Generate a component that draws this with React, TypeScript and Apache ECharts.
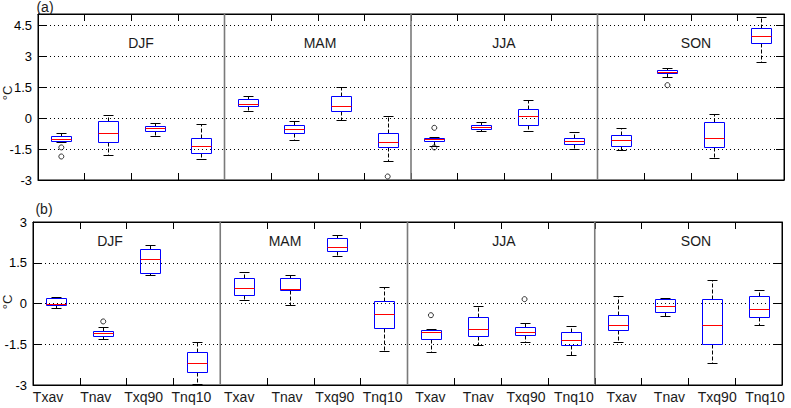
import React, { useEffect, useRef } from 'react';
import * as echarts from 'echarts';

// Indices and seasons shown on the horizontal axis
const indices = ['Txav', 'Tnav', 'Txq90', 'Tnq10'];
const seasons = ['DJF', 'MAM', 'JJA', 'SON'];
const categories = seasons.flatMap((s) => indices.map((ix) => `${s} ${ix}`));
const xTickLabels = seasons.flatMap(() => indices);

// Box statistics per season/index: [lower whisker, Q1, median, Q3, upper whisker]
const statsA = [
  [-1.15, -1.11, -0.99, -0.87, -0.74],
  [-1.78, -1.16, -0.71, -0.15, 0.16],
  [-0.86, -0.63, -0.5, -0.39, -0.26],
  [-1.97, -1.69, -1.35, -0.95, -0.29],
  [0.35, 0.58, 0.68, 0.92, 1.05],
  [-1.05, -0.73, -0.52, -0.34, -0.16],
  [-0.08, 0.34, 0.58, 1.06, 1.53],
  [-2.08, -1.4, -1.15, -0.7, 0.1],
  [-1.34, -1.11, -1.03, -0.95, -0.9],
  [-0.63, -0.53, -0.42, -0.32, -0.21],
  [-0.63, -0.34, 0.1, 0.44, 0.87],
  [-1.49, -1.24, -1.11, -0.95, -0.65],
  [-1.53, -1.37, -1.05, -0.82, -0.48],
  [2.01, 2.18, 2.25, 2.32, 2.45],
  [-1.91, -1.4, -0.95, -0.19, 0.22],
  [2.72, 3.63, 4.0, 4.35, 4.9],
];
// Outliers: [category index, value]
const outliersA = [
  [0, -1.42],
  [0, -1.86],
  [7, -2.83],
  [8, -0.47],
  [8, -1.42],
  [13, 1.6],
];

const statsB = [
  [-0.15, -0.05, -0.02, 0.2, 0.25],
  [-1.3, -1.2, -1.1, -1.01, -0.86],
  [1.04, 1.14, 1.63, 2.0, 2.16],
  [-2.95, -2.52, -2.19, -1.79, -1.4],
  [0.14, 0.31, 0.58, 0.93, 1.15],
  [-0.06, 0.5, 0.55, 0.93, 1.04],
  [1.74, 1.93, 2.07, 2.4, 2.51],
  [-1.75, -0.89, -0.39, 0.09, 0.6],
  [-1.79, -1.31, -1.04, -0.98, -0.94],
  [-1.51, -1.2, -0.93, -0.5, -0.1],
  [-1.42, -1.16, -1.04, -0.87, -0.7],
  [-1.9, -1.53, -1.33, -1.05, -0.81],
  [-1.42, -0.98, -0.79, -0.43, 0.27],
  [-0.46, -0.32, -0.08, 0.16, 0.22],
  [-2.19, -1.49, -0.79, 0.16, 0.88],
  [-0.79, -0.5, -0.22, 0.27, 0.49],
];
const outliersB = [
  [1, -0.66],
  [8, -0.43],
  [10, 0.16],
];

// Value ranges of the two panels
const yRangeA = [-3, 5.05];
const yRangeB = [-3, 3];
const yStep = 1.5;

// Layout
const FONT = '"Liberation Sans", Arial, sans-serif';
const gridA = { left: 38, top: 14, width: 746, height: 166 };
const gridB = { left: 33, top: 222, width: 749, height: 163 };
const seasonLabelXA = [141, 320, 504, 696];
const seasonLabelXB = [110, 285, 504, 696];
const labelAxisRange = [-0.314, 15.355];
const BOX_W = 20;
const CAP_W = 10;

const separatorData = seasons.slice(1).map((_, s) => [(s + 1) * indices.length, 0]);

function renderBox(params: any, api: any) {
  const idx = api.value(0);
  const lo = api.value(1);
  const q1 = api.value(2);
  const med = api.value(3);
  const q3 = api.value(4);
  const hi = api.value(5);
  const cx = Math.round(api.coord([idx, med])[0]) + 0.5;
  const y = (v: number) => Math.round(api.coord([idx, v])[1]) + 0.5;
  const half = BOX_W / 2;
  const cap = CAP_W / 2;
  const black = { stroke: '#000', lineWidth: 1 };
  return {
    type: 'group',
    children: [
      { type: 'line', shape: { x1: cx, y1: y(q3), x2: cx, y2: y(hi) }, style: { ...black, lineDash: [4, 2] } },
      { type: 'line', shape: { x1: cx, y1: y(q1), x2: cx, y2: y(lo) }, style: { ...black, lineDash: [4, 2] } },
      { type: 'line', shape: { x1: cx - cap, y1: y(hi), x2: cx + cap, y2: y(hi) }, style: black },
      { type: 'line', shape: { x1: cx - cap, y1: y(lo), x2: cx + cap, y2: y(lo) }, style: black },
      {
        type: 'rect',
        shape: { x: cx - half, y: y(q3), width: BOX_W, height: y(q1) - y(q3) },
        style: { fill: 'none', stroke: '#0000ff', lineWidth: 1 },
      },
      {
        type: 'line',
        shape: { x1: cx - half, y1: y(med), x2: cx + half, y2: y(med) },
        style: { stroke: '#ff0000', lineWidth: 1 },
      },
    ],
  };
}

function renderSeparator(params: any, api: any) {
  const idx = api.value(0);
  const band = api.size([1, 0])[0];
  const x = api.coord([idx, 0])[0] - band / 2;
  const cs = params.coordSys;
  return {
    type: 'line',
    shape: { x1: x, y1: cs.y, x2: x, y2: cs.y + cs.height },
    style: { stroke: '#7a7a7a', lineWidth: 1.6 },
  };
}

const frameLine = { show: true, onZero: false, lineStyle: { color: '#000', width: 1 } };

function catAxis(gridIndex: number, position: 'top' | 'bottom') {
  return {
    type: 'category',
    gridIndex,
    position,
    data: categories,
    boundaryGap: true,
    axisLine: frameLine,
    axisTick: { show: true, inside: true, interval: 0, length: 7, lineStyle: { color: '#000', width: 1 } },
    axisLabel: { show: false },
    splitLine: { show: false },
  };
}

function valAxis(gridIndex: number, range: number[], position: 'left' | 'right') {
  const left = position === 'left';
  return {
    type: 'value',
    gridIndex,
    position,
    min: range[0],
    max: range[1],
    interval: yStep,
    axisLine: frameLine,
    axisTick: { show: true, inside: true, length: 8, lineStyle: { color: '#000', width: 1 } },
    axisLabel: {
      show: left,
      showMaxLabel: range[1] % yStep === 0,
      color: '#000',
      fontSize: 13,
      fontFamily: FONT,
      margin: 6,
    },
    splitLine: left
      ? { show: true, lineStyle: { color: '#000', width: 1, type: [1, 3] } }
      : { show: false },
  };
}

function boxSeries(stats: number[][], outliers: number[][], axisIdx: [number, number]) {
  return [
    {
      type: 'custom',
      xAxisIndex: axisIdx[0],
      yAxisIndex: axisIdx[1],
      data: separatorData,
      renderItem: renderSeparator,
      silent: true,
      z: 1,
    },
    {
      type: 'custom',
      xAxisIndex: axisIdx[0],
      yAxisIndex: axisIdx[1],
      data: stats.map((s, i) => [i, ...s]),
      encode: { x: 0, y: [1, 2, 3, 4, 5] },
      renderItem: renderBox,
      z: 3,
    },
    {
      type: 'scatter',
      xAxisIndex: axisIdx[0],
      yAxisIndex: axisIdx[1],
      data: outliers,
      symbol: 'circle',
      symbolSize: 5,
      itemStyle: { color: 'rgba(0,0,0,0)', borderColor: '#000', borderWidth: 1 },
      z: 4,
    },
  ];
}

function text(x: number, y: number, t: string, extra: any = {}) {
  return {
    type: 'text',
    x,
    y,
    z: 10,
    ...extra,
    style: {
      text: t,
      fill: '#1a1a1a',
      font: `14px ${FONT}`,
      align: 'center',
      verticalAlign: 'middle',
      ...(extra.style || {}),
    },
  };
}

export default function App() {
  const ref = useRef<HTMLDivElement>(null);

  useEffect(() => {
    if (!ref.current) return;
    const chart = echarts.init(ref.current, null, { renderer: 'svg' });

    const option: any = {
      animation: false,
      backgroundColor: '#fff',
      textStyle: { fontFamily: FONT },
      grid: [
        { ...gridA, show: true, borderColor: '#000', borderWidth: 1, backgroundColor: 'transparent' },
        { ...gridB, show: true, borderColor: '#000', borderWidth: 1, backgroundColor: 'transparent' },
      ],
      xAxis: [
        catAxis(0, 'bottom'),
        catAxis(0, 'top'),
        catAxis(1, 'bottom'),
        catAxis(1, 'top'),
        {
          type: 'value',
          gridIndex: 1,
          position: 'bottom',
          min: labelAxisRange[0],
          max: labelAxisRange[1],
          axisLine: { show: false, onZero: false },
          axisTick: { show: false },
          splitLine: { show: false },
          axisLabel: {
            show: true,
            customValues: xTickLabels.map((_, i) => i),
            formatter: (v: number) => xTickLabels[Math.round(v)] ?? '',
            color: '#1a1a1a',
            fontSize: 14,
            fontFamily: FONT,
            margin: 5,
          },
        },
      ],
      yAxis: [
        valAxis(0, yRangeA, 'left'),
        valAxis(0, yRangeA, 'right'),
        valAxis(1, yRangeB, 'left'),
        valAxis(1, yRangeB, 'right'),
      ],
      series: [...boxSeries(statsA, outliersA, [0, 0]), ...boxSeries(statsB, outliersB, [2, 2])],
      graphic: [
        text(45, 7, '(a)'),
        text(44, 209, '(b)'),
        text(7, 93, '°C', { rotation: Math.PI / 2, style: { font: `13px ${FONT}` } }),
        text(7, 302, '°C', { rotation: Math.PI / 2, style: { font: `13px ${FONT}` } }),
        ...seasons.map((s, i) => text(seasonLabelXA[i], 43, s)),
        ...seasons.map((s, i) => text(seasonLabelXB[i], 241, s)),
      ],
    };

    chart.setOption(option);
    return () => chart.dispose();
  }, []);

  return (
    <div
      ref={ref}
      style={{ position: 'fixed', left: 0, top: 0, width: 791, height: 408, background: '#fff' }}
    />
  );
}
